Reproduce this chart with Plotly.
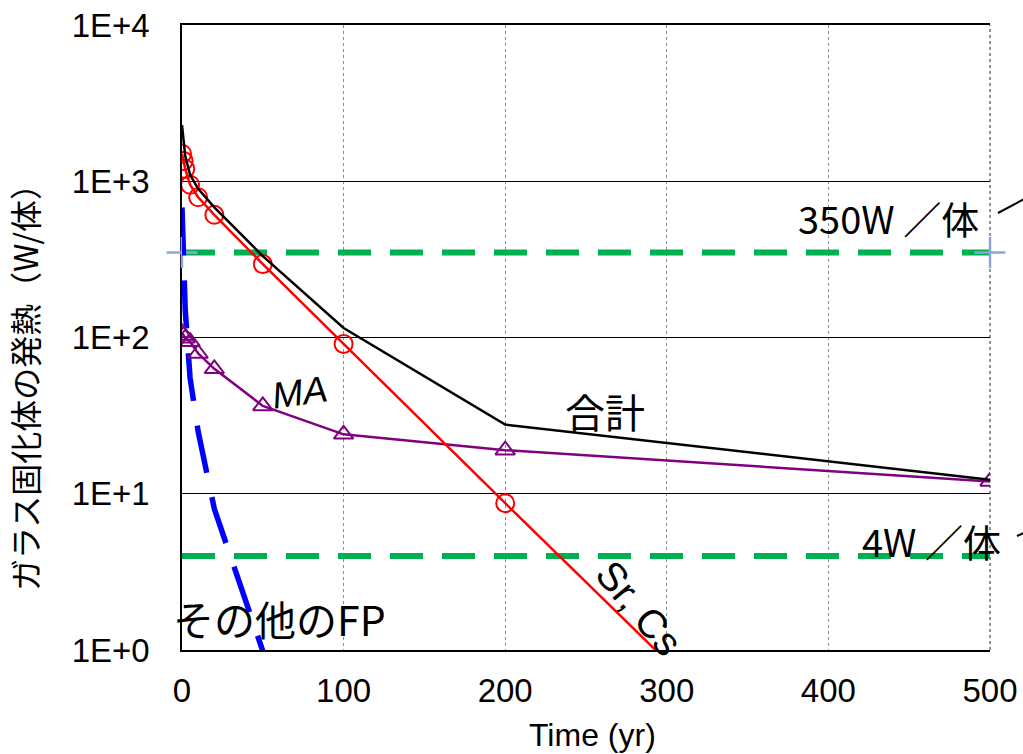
import plotly.graph_objects as go

# Heat generation of a vitrified waste canister (W per canister) vs. time
t_srcs = [0, 1, 2, 5, 10, 20, 50, 100, 200, 300]
q_srcs = [1500, 1350, 1200, 950, 790, 610, 295, 91, 8.7, 0.85]

t_ma = [0, 1, 2, 5, 10, 20, 50, 100, 200, 500]
q_ma = [107, 103, 99, 94, 79, 63, 36.5, 24, 19, 12]

t_fp = [0, 1, 2, 5, 10, 20, 50, 100]
q_fp = [680, 350, 150, 55, 25, 8, 1.0, 0.03]

t_total = [0, 1, 2, 5, 10, 20, 50, 100, 200, 500]
q_total = [2290, 1800, 1450, 1100, 894, 681, 332, 115, 27.7, 12.3]

t_limit = [0, 500]
limit_350 = [350, 350]
limit_4 = [4, 4]

y_tickvals = [1, 10, 100, 1000, 10000]
y_ticktext = ["1E+0", "1E+1", "1E+2", "1E+3", "1E+4"]
x_tickvals = [0, 100, 200, 300, 400, 500]

W, H = 1023, 754
ML, MR, MT, MB = 182, 33, 25, 104

JP = "Noto Sans CJK JP"
LAT = "Arial, Liberation Sans, sans-serif"

fig = go.Figure()

fig.add_trace(go.Scatter(
    x=t_limit, y=limit_350, mode="lines+markers",
    line=dict(color="#00B050", width=6, dash="33px,19px"),
    marker=dict(symbol="cross-thin", size=22,
                line=dict(color="#8EA6D6", width=2.5)),
    showlegend=False, cliponaxis=False))
fig.add_trace(go.Scatter(
    x=t_limit, y=limit_4, mode="lines",
    line=dict(color="#00B050", width=6, dash="33px,19px"),
    showlegend=False))

fig.add_trace(go.Scatter(
    x=t_fp, y=q_fp, mode="lines",
    line=dict(color="#0000FF", width=5.5, dash="48px,25px"),
    showlegend=False))

fig.add_trace(go.Scatter(
    x=t_ma, y=q_ma, mode="lines+markers",
    line=dict(color="#800080", width=2.5),
    marker=dict(symbol="triangle-up-open", size=17,
                line=dict(color="#800080", width=2)),
    showlegend=False))

fig.add_trace(go.Scatter(
    x=t_srcs, y=q_srcs, mode="lines+markers",
    line=dict(color="#FF0000", width=2.5),
    marker=dict(symbol="circle-open", size=18,
                line=dict(color="#FF0000", width=2)),
    showlegend=False))

fig.add_trace(go.Scatter(
    x=t_total, y=q_total, mode="lines",
    line=dict(color="#000000", width=2.5),
    showlegend=False))

def ann(text, x, ylog, size, font=JP, angle=0, style="normal"):
    fig.add_annotation(x=x, y=ylog, xref="x", yref="y", text=text,
                       showarrow=False, textangle=angle,
                       xanchor="center", yanchor="middle",
                       font=dict(family=font, size=size, color="black", style=style))

ann("350W ／体", 437, 2.765, 38)
ann("4W ／体", 464, 0.698, 38)
ann("合計", 262, 1.53, 40)
ann("MA", 73, 1.645, 37, font=LAT, angle=-8, style="italic")
ann("その他のFP", 60.6, 0.205, 41)
ann("Sr, Cs", 283, 0.27, 40, font=LAT, angle=50)

def px(xp):
    return (xp - ML) / (W - ML - MR)

def py(yp):
    return (H - MB - yp) / (H - MT - MB)

# axis titles
fig.add_annotation(x=px(24), y=py(380), xref="paper", yref="paper",
                   xanchor="center", yanchor="middle",
                   text="ガラス固化体の発熱（W/体）", textangle=-90,
                   showarrow=False, font=dict(family=JP, size=32, color="black"))
fig.add_annotation(x=px(592), y=py(735), xref="paper", yref="paper",
                   xanchor="center", yanchor="middle",
                   text="Time (yr)", showarrow=False,
                   font=dict(family=LAT, size=32, color="black"))

# right-hand frame edge (dotted, like the vertical grid)
fig.add_shape(type="line", xref="paper", yref="paper", layer="below",
              x0=1, y0=0, x1=1, y1=1,
              line=dict(color="#707070", width=1.5, dash="dot"))

# leader lines of the side callouts
fig.add_shape(type="line", xref="paper", yref="paper",
              x0=px(998), y0=py(213), x1=px(1045), y1=py(188),
              line=dict(color="black", width=2))
fig.add_shape(type="line", xref="paper", yref="paper",
              x0=px(1017), y0=py(536), x1=px(1045), y1=py(524),
              line=dict(color="black", width=2))

fig.update_layout(
    width=W, height=H,
    margin=dict(l=ML, r=MR, t=MT, b=MB, pad=0, autoexpand=False),
    paper_bgcolor="white", plot_bgcolor="white",
    showlegend=False,
    xaxis=dict(range=[0, 500], tickvals=x_tickvals, automargin=False,
               showgrid=True, gridcolor="#8C8C8C", griddash="dot", gridwidth=1,
               showline=True, linecolor="black", linewidth=1.5, mirror=True,
               zeroline=False, ticks="", ticklabelstandoff=11, layer="below traces",
               tickfont=dict(family=LAT, size=33, color="black")),
    yaxis=dict(type="log", range=[0, 4], tickvals=y_tickvals, ticktext=y_ticktext,
               automargin=False, layer="below traces",
               showgrid=True, gridcolor="black", gridwidth=1,
               showline=True, linecolor="black", linewidth=1.5,
               zeroline=False, ticks="", ticklabelstandoff=24,
               tickfont=dict(family=LAT, size=33, color="black")),
)

fig.write_html("out.html")
